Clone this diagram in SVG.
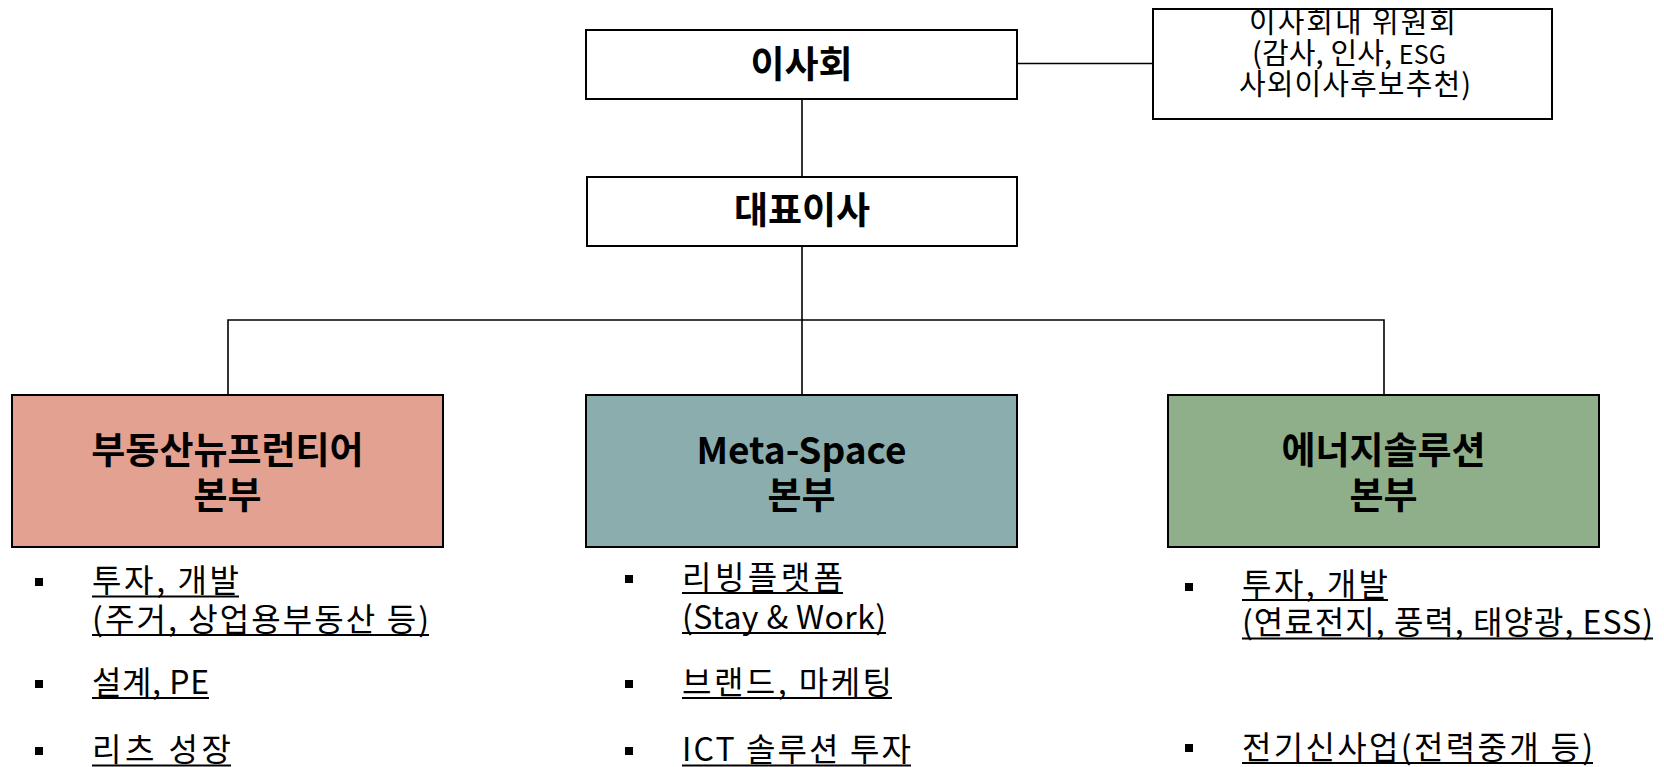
<svg xmlns="http://www.w3.org/2000/svg" width="1664" height="767" viewBox="0 0 1664 767">
  <style>
    .box { stroke: #000; stroke-width: 2; }
    .wbox { fill: #fff; }
    .conn { stroke: #000; stroke-width: 1.6; fill: none; }
    .title { font-family: "Noto Sans CJK KR", "Noto Sans", sans-serif; font-weight: bold; font-size: 37px; fill: #000; text-anchor: middle; }
    .cmt { font-family: "Noto Sans CJK KR", "Noto Sans", sans-serif; font-size: 29px; fill: #000; text-anchor: middle; }
    .item { font-family: "Noto Sans CJK KR", "Noto Sans", sans-serif; font-size: 32px; fill: #000; }
    .ul { stroke: #000; stroke-width: 1.8; }
    .bullet { fill: #000; }
  </style>
  <rect width="1664" height="767" fill="#fff"/>

  <g id="connectors">
    <line class="conn" x1="1017" y1="63.5" x2="1153" y2="63.5"/>
    <line class="conn" x1="802" y1="99" x2="802" y2="177"/>
    <line class="conn" x1="802" y1="246" x2="802" y2="395"/>
    <polyline class="conn" points="228,395 228,320 1384,320 1384,395"/>
  </g>

  <g id="board">
    <rect class="box wbox" x="586" y="30" width="431" height="69"/>
    <text class="title" x="801.5" y="78">이사회</text>
  </g>

  <g id="committee">
    <rect class="box wbox" x="1153" y="9" width="399" height="110"/>
    <text class="cmt" x="1352.5" y="33" textLength="207" lengthAdjust="spacing">이사회내 위원회</text>
    <text class="cmt" x="1349" y="64" textLength="194" lengthAdjust="spacing">(감사, 인사, <tspan font-size="25">ESG</tspan></text>
    <text class="cmt" x="1355" y="95" textLength="232" lengthAdjust="spacing">사외이사후보추천)</text>
  </g>

  <g id="ceo">
    <rect class="box wbox" x="587" y="177" width="430" height="69"/>
    <text class="title" x="802" y="224">대표이사</text>
  </g>

  <g id="div-realestate">
    <rect class="box" x="12" y="395" width="431" height="152" fill="#E3A192"/>
    <text class="title" x="227.5" y="464">부동산뉴프런티어</text>
    <text class="title" x="227.5" y="509">본부</text>
  </g>

  <g id="div-metaspace">
    <rect class="box" x="586" y="395" width="431" height="152" fill="#8BADAE"/>
    <text class="title" x="801.5" y="464">Meta-Space</text>
    <text class="title" x="801.5" y="509">본부</text>
  </g>

  <g id="div-energy">
    <rect class="box" x="1168" y="395" width="431" height="152" fill="#8FAF8B"/>
    <text class="title" x="1383.5" y="464">에너지솔루션</text>
    <text class="title" x="1383.5" y="509">본부</text>
  </g>

  <g id="list-realestate">
    <rect class="bullet" x="35" y="578" width="8" height="8"/>
    <text class="item" x="92" y="592" textLength="147" lengthAdjust="spacing">투자, 개발</text>
    <line class="ul" x1="92" y1="596.5" x2="239" y2="596.5"/>
    <text class="item" x="92" y="631" textLength="337" lengthAdjust="spacing">(주거, 상업용부동산 등)</text>
    <line class="ul" x1="92" y1="635" x2="429" y2="635"/>
    <rect class="bullet" x="35" y="680" width="8" height="8"/>
    <text class="item" x="92" y="694" textLength="117" lengthAdjust="spacing">설계, PE</text>
    <line class="ul" x1="92" y1="698" x2="209" y2="698"/>
    <rect class="bullet" x="35" y="747" width="8" height="8"/>
    <text class="item" x="92" y="761" textLength="139" lengthAdjust="spacing">리츠 성장</text>
    <line class="ul" x1="92" y1="765.5" x2="231" y2="765.5"/>
  </g>

  <g id="list-metaspace">
    <rect class="bullet" x="625" y="575" width="8" height="8"/>
    <text class="item" x="682" y="589" textLength="161" lengthAdjust="spacing">리빙플랫폼</text>
    <line class="ul" x1="682" y1="593" x2="843" y2="593"/>
    <text class="item" x="682" y="629" textLength="204" lengthAdjust="spacing">(Stay &amp; Work)</text>
    <line class="ul" x1="682" y1="633" x2="886" y2="633"/>
    <rect class="bullet" x="625" y="680" width="8" height="8"/>
    <text class="item" x="682" y="694" textLength="210" lengthAdjust="spacing">브랜드, 마케팅</text>
    <line class="ul" x1="682" y1="698" x2="892" y2="698"/>
    <rect class="bullet" x="625" y="747" width="8" height="8"/>
    <text class="item" x="682" y="761" textLength="229" lengthAdjust="spacing">ICT 솔루션 투자</text>
    <line class="ul" x1="682" y1="765.5" x2="911" y2="765.5"/>
  </g>

  <g id="list-energy">
    <rect class="bullet" x="1185" y="583" width="8" height="8"/>
    <text class="item" x="1242" y="596" textLength="146" lengthAdjust="spacing">투자, 개발</text>
    <line class="ul" x1="1242" y1="600" x2="1388" y2="600"/>
    <text class="item" x="1242" y="634" textLength="411" lengthAdjust="spacing">(연료전지, 풍력, 태양광, ESS)</text>
    <line class="ul" x1="1242" y1="638.5" x2="1653" y2="638.5"/>
    <rect class="bullet" x="1185" y="744" width="8" height="8"/>
    <text class="item" x="1242" y="759" textLength="351" lengthAdjust="spacing">전기신사업(전력중개 등)</text>
    <line class="ul" x1="1242" y1="763" x2="1593" y2="763"/>
  </g>
</svg>
